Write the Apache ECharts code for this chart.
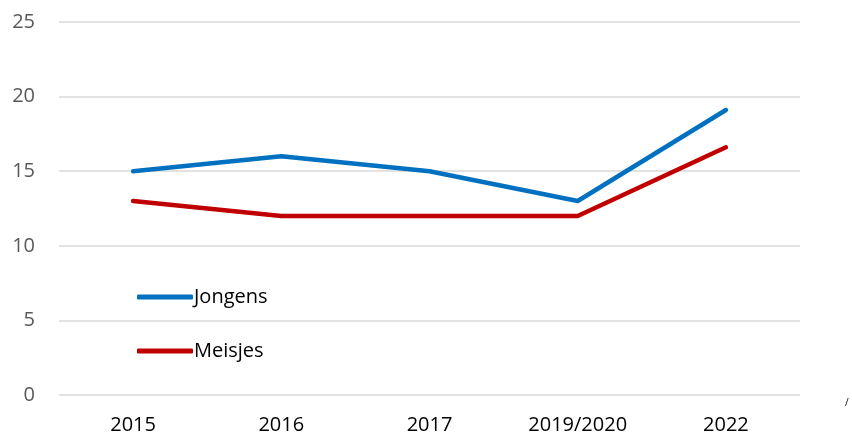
<!DOCTYPE html>
<html>
<head>
<meta charset="utf-8">
<script src="https://cdn.jsdelivr.net/npm/echarts@6/dist/echarts.min.js"></script>
<style>
  html, body { margin: 0; padding: 0; background: #fff; }
  #chart { width: 852px; height: 438px; }
</style>
</head>
<body>
<div id="chart"></div>
<script>
const categories = ['2015', '2016', '2017', '2019/2020', '2022']
const jongens = [15, 16, 15, 13, 19.1]
const meisjes = [13, 12, 12, 12, 16.6]
const yTicks = [0, 5, 10, 15, 20, 25]

const font = '"Open Sans", "Noto Sans", sans-serif'

let myChart = echarts.init(document.getElementById('chart'))
let option = {
  animation: false,
  grid: { left: 59, right: 52, top: 22, bottom: 43 },
  legend: {
    orient: 'vertical',
    left: 132,
    top: 280,
    itemGap: 30,
    itemWidth: 56,
    itemHeight: 5,
    itemStyle: { borderWidth: 0 },
    icon: 'roundRect',
    textStyle: { fontFamily: font, fontSize: 20, color: '#000', padding: [0, 0, 0, -4], lineHeight: 24 },
    data: ['Jongens', 'Meisjes']
  },
  xAxis: {
    type: 'category',
    data: categories,
    boundaryGap: true,
    axisLine: { show: false },
    axisTick: { show: false },
    axisLabel: { fontFamily: font, fontSize: 20, color: '#000', margin: 20 }
  },
  yAxis: {
    type: 'value',
    min: yTicks[0],
    max: yTicks[yTicks.length - 1],
    interval: 5,
    axisLine: { show: false },
    axisTick: { show: false },
    axisLabel: { fontFamily: font, fontSize: 20, color: '#595959', margin: 24 },
    splitLine: { lineStyle: { color: '#d9d9d9', width: 1.5 } }
  },
  series: [
    {
      name: 'Jongens',
      type: 'line',
      data: jongens,
      symbol: 'none',
      color: '#0070c0',
      lineStyle: { width: 4.5, cap: 'round', join: 'round' }
    },
    {
      name: 'Meisjes',
      type: 'line',
      data: meisjes,
      symbol: 'none',
      color: '#c00000',
      lineStyle: { width: 4.5, cap: 'round', join: 'round' }
    }
  ],
  graphic: [
    {
      type: 'text',
      left: 845,
      top: 398,
      style: { text: '/', fontFamily: font, fontSize: 10, fill: '#000' }
    }
  ]
}
myChart.setOption(option)
</script>
</body>
</html>
